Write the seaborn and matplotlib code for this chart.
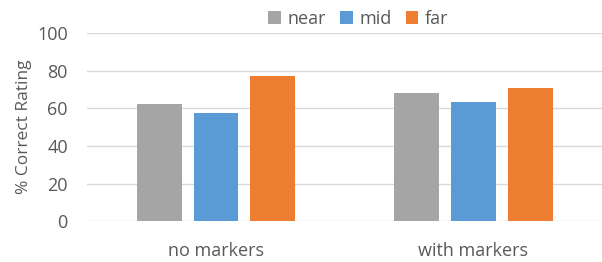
import matplotlib
matplotlib.use("Agg")
import matplotlib.pyplot as plt
import numpy as np
import pandas as pd
import seaborn as sns

# data
conditions = ["no markers", "with markers"]
distances = ["near", "mid", "far"]
near = [62.2, 68.2]
mid = [57.4, 63.5]
far = [77.1, 70.7]

colors = ["#A5A5A5", "#5B9BD5", "#ED7D31"]
text_col = "#595959"

rows = []
for i, c in enumerate(conditions):
    rows.append({"condition": c, "distance": "near", "pct": near[i]})
    rows.append({"condition": c, "distance": "mid", "pct": mid[i]})
    rows.append({"condition": c, "distance": "far", "pct": far[i]})
df = pd.DataFrame(rows)

sns.set_style("white")
plt.rcParams["font.family"] = ["Open Sans", "DejaVu Sans"]

fig = plt.figure(figsize=(6.02, 2.62), dpi=100)
ax = fig.add_axes([0.145, 0.156, 0.855, 0.717])

sns.barplot(data=df, x="condition", y="pct", hue="distance", hue_order=distances,
            palette=colors, width=0.663, gap=0.21, ax=ax, saturation=1,
            edgecolor="none", legend=True)

ax.set_xlim(-0.5, 1.5)
ax.set_ylim(0, 100)
ax.set_yticks(np.arange(0, 101, 20))
ax.yaxis.grid(True, color="#D9D9D9", linewidth=1)
ax.set_axisbelow(True)
for s in ax.spines.values():
    s.set_visible(False)

ax.tick_params(axis="both", length=0, labelsize=13, colors=text_col)
ax.tick_params(axis="x", pad=15)
ax.tick_params(axis="y", pad=14)
ax.set_xlabel("")
ax.set_ylabel("% Correct Rating", fontsize=12.5, color=text_col, labelpad=4)

handles, labels = ax.get_legend_handles_labels()
ax.get_legend().remove()
fig.legend(handles, labels, loc="center", bbox_to_anchor=(0.595, 0.928), ncol=3,
           frameon=False, fontsize=13, labelcolor=text_col,
           handlelength=0.7, handleheight=0.7, handletextpad=0.35,
           columnspacing=0.8, borderaxespad=0)

fig.savefig("out.png", dpi=100)
